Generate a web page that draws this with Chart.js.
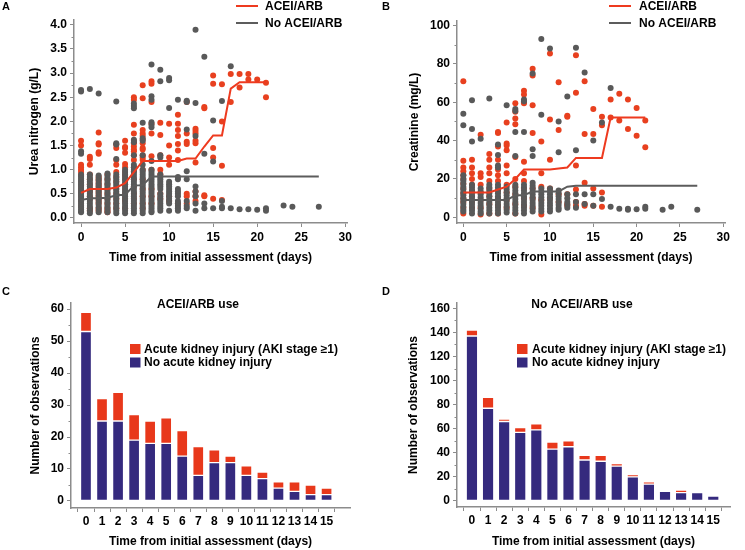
<!DOCTYPE html>
<html>
<head>
<meta charset="utf-8">
<script src="https://cdn.jsdelivr.net/npm/chart.js@4.4.1/dist/chart.umd.min.js"></script>
<style>
    body { margin: 0; background: #fff; }
    #wrap { position: relative; width: 745px; height: 550px; }
    canvas { position: absolute; }
</style>
</head>
<body>
<div id="wrap">
    <canvas id="urea-chart" style="left:0;top:0;width:372px;height:275px"></canvas>
    <canvas id="creatinine-chart" style="left:372px;top:0;width:373px;height:275px"></canvas>
    <canvas id="acei-bar-chart" style="left:0;top:275px;width:372px;height:275px"></canvas>
    <canvas id="no-acei-bar-chart" style="left:372px;top:275px;width:373px;height:275px"></canvas>
</div>
<script>
// ---- Panel A: urea nitrogen (g/L), one list of observations per day (index = day)
const ureaAcei = [
    [1.6, 1.5, 1.1, 1.05, 1.0, 0.95, 0.88, 0.75, 0.68, 0.6, 0.55, 0.5, 0.45, 0.35, 0.25],
    [1.27, 1.22, 1.1, 0.9, 0.8, 0.7, 0.6, 0.55, 0.45, 0.4, 0.2, 0.15],
    [1.77, 1.55, 1.52, 1.36, 1.33, 0.85, 0.8, 0.75, 0.7, 0.65, 0.6, 0.55, 0.5, 0.45, 0.4, 0.35, 0.3, 0.2, 0.15],
    [0.9, 0.8, 0.7, 0.6, 0.5, 0.4, 0.3, 0.2, 0.15, 0.12],
    [1.52, 1.45, 1.2, 1.1, 0.95, 0.85, 0.75, 0.6, 0.5, 0.4, 0.3, 0.2],
    [1.6, 1.47, 1.45, 1.35, 1.12, 1.05, 0.95, 0.88, 0.8, 0.7, 0.6, 0.5, 0.4, 0.35, 0.2],
    [2.5, 2.45, 1.93, 1.75, 1.6, 1.55, 1.48, 1.42, 1.38, 1.3, 1.2, 1.05, 0.97, 0.8, 0.65, 0.5, 0.4, 0.3],
    [2.75, 2.48, 1.82, 1.75, 1.7, 1.62, 1.55, 1.45, 1.42, 1.3, 1.25, 1.2, 1.0, 0.8, 0.6, 0.45, 0.3, 0.2],
    [2.83, 2.78, 2.4, 1.95, 1.75, 1.28, 1.0, 0.6, 0.45, 0.3],
    [1.97, 1.72, 1.3, 1.0, 0.9, 0.5, 0.4],
    [1.95, 1.5, 1.25, 1.1, 0.45, 0.35],
    [2.14, 1.95, 1.82, 1.7, 1.53, 1.4, 1.2, 0.3],
    [2.4, 1.75, 1.58, 1.53, 0.5, 0.45, 0.3],
    [1.85, 1.8, 1.75, 1.6, 1.55, 1.15, 0.55, 0.45, 0.35],
    [2.3, 2.27, 0.47, 0.45],
    [2.95, 2.78, 1.45, 1.25, 0.4],
    [2.77, 2.0, 1.08, 0.37],
    [2.98, 2.4],
    [2.98, 2.7],
    [2.98, 2.87],
    [2.87],
    [2.8, 2.5]
];
const ureaNoAcei = [
    [2.65, 2.62, 1.38, 1.33, 0.9, 0.86, 0.82, 0.78, 0.74, 0.7, 0.66, 0.62, 0.58, 0.54, 0.5, 0.46, 0.42, 0.38, 0.34, 0.3, 0.26, 0.22, 0.18, 0.14, 0.12],
    [2.67, 0.9, 0.85, 0.8, 0.75, 0.7, 0.65, 0.6, 0.55, 0.5, 0.45, 0.4, 0.35, 0.3, 0.25, 0.2, 0.15, 0.1],
    [2.58, 0.88, 0.83, 0.78, 0.72, 0.67, 0.62, 0.57, 0.52, 0.47, 0.42, 0.37, 0.32, 0.27, 0.22, 0.17, 0.12],
    [0.92, 0.87, 0.82, 0.77, 0.72, 0.67, 0.62, 0.57, 0.52, 0.47, 0.42, 0.37, 0.32, 0.27, 0.22, 0.17, 0.12],
    [2.41, 1.55, 1.52, 1.22, 0.9, 0.85, 0.8, 0.75, 0.7, 0.65, 0.6, 0.55, 0.5, 0.45, 0.4, 0.35, 0.3, 0.25, 0.2, 0.15, 0.1],
    [1.0, 0.95, 0.9, 0.85, 0.8, 0.75, 0.7, 0.65, 0.6, 0.55, 0.5, 0.45, 0.4, 0.35, 0.3, 0.25, 0.2, 0.15, 0.1],
    [2.37, 2.32, 2.27, 1.62, 1.57, 1.3, 1.1, 1.05, 1.0, 0.95, 0.9, 0.85, 0.8, 0.75, 0.7, 0.65, 0.6, 0.55, 0.5, 0.45, 0.4, 0.35, 0.3, 0.25, 0.2, 0.15, 0.1],
    [1.97, 1.65, 1.6, 1.3, 1.1, 1.0, 0.95, 0.9, 0.85, 0.8, 0.75, 0.7, 0.65, 0.6, 0.55, 0.5, 0.45, 0.4, 0.35, 0.3, 0.25, 0.2, 0.15, 0.1],
    [3.18, 2.52, 2.45, 1.98, 1.93, 1.88, 1.18, 1.0, 0.95, 0.9, 0.85, 0.8, 0.75, 0.7, 0.65, 0.6, 0.55, 0.5, 0.45, 0.4, 0.35, 0.3, 0.25, 0.2, 0.15, 0.12],
    [3.07, 2.83, 1.3, 1.25, 0.9, 0.85, 0.8, 0.75, 0.7, 0.65, 0.6, 0.5, 0.45, 0.4, 0.35, 0.3, 0.25, 0.2, 0.15],
    [2.9, 2.85, 2.28, 0.75, 0.7, 0.65, 0.6, 0.55, 0.5, 0.45, 0.4, 0.35, 0.3, 0.15],
    [2.45, 0.85, 0.8, 0.6, 0.55, 0.5, 0.45, 0.35, 0.3, 0.25, 0.2, 0.15],
    [2.43, 2.4, 1.83, 0.97, 0.8, 0.35, 0.25, 0.2],
    [3.9, 2.38, 1.7, 0.65, 0.55, 0.45, 0.3, 0.15],
    [3.34, 1.33, 0.3, 0.2],
    [2.02, 1.17, 0.2],
    [2.42, 0.35, 0.23, 0.2],
    [3.14, 0.2],
    [0.18],
    [0.18],
    [0.17],
    [0.2, 0.15],
    [],
    [0.26],
    [0.23],
    [],
    [],
    [0.23]
];
const ureaAceiMedianDays = [0, 1, 2, 3, 4, 5, 6, 7, 8, 9, 10, 11, 12, 13, 14, 15, 16, 17, 18, 19, 20, 21];
const ureaAceiMedian = [0.52, 0.6, 0.6, 0.6, 0.63, 0.72, 0.95, 1.18, 1.18, 1.18, 1.18, 1.18, 1.23, 1.23, 1.48, 1.71, 1.71, 2.68, 2.81, 2.81, 2.81, 2.81];
const ureaNoAceiMedianDays = [0, 1, 2, 3, 4, 5, 6, 7, 8, 27];
const ureaNoAceiMedian = [0.37, 0.41, 0.41, 0.42, 0.47, 0.48, 0.67, 0.68, 0.86, 0.86];
const ureaTicks = [0, 0.5, 1, 1.5, 2, 2.5, 3, 3.5, 4];
const ureaMinorTicks = [0.25, 0.75, 1.25, 1.75, 2.25, 2.75, 3.25, 3.75];

// ---- Panel B: creatinine (mg/L)
const creatAcei = [
    [71, 29.5, 26, 24, 22, 20, 17.5, 15, 12.5, 10, 8, 5, 2],
    [30, 26, 23, 20, 17, 14, 11, 8, 5],
    [43, 23, 21, 17, 13, 9, 5, 1.5],
    [33, 30, 26, 23, 19, 15, 11, 7, 2],
    [44.5, 44, 37, 30, 25, 22, 19, 14, 10, 6, 2],
    [49.5, 38.5, 37.5, 35, 27, 23, 17, 13, 9, 5],
    [59.5, 55, 51.5, 48.5, 31.5, 20, 16, 12, 7, 2],
    [66, 64, 60, 59.5, 29, 23, 19, 15, 10, 6],
    [77.5, 74, 58.5, 44, 15, 10, 5],
    [39.5, 23, 16, 9, 1.5],
    [85.5, 51, 30, 15, 10],
    [70.5, 45.5, 12, 8],
    [53, 52.5, 12, 7, 6],
    [84.5, 65, 27, 14.5, 8, 6],
    [71, 43.5, 18, 7, 6],
    [56.5, 43.5, 15, 6],
    [52.5, 48, 13, 5.5],
    [61.5, 52],
    [64.5, 50.5],
    [61.5, 46],
    [57, 42.5],
    [50.5, 36.5]
];
const creatNoAcei = [
    [54, 48, 22, 20, 19, 17.5, 16, 14.5, 13, 11.5, 10, 8.5, 7, 5.5, 4, 3],
    [61, 46, 39.5, 17, 15.5, 14, 12.5, 11, 9.5, 8, 6.5, 5, 3.5, 2],
    [41, 15, 13.5, 12, 10.5, 9, 7.5, 6, 4.5, 3, 2],
    [62, 17, 15.5, 14, 12.5, 11, 9.5, 8, 6.5, 5, 3.5, 2],
    [38, 32.5, 27, 26, 17, 15.5, 14, 12.5, 11, 9.5, 8, 6.5, 5, 3.5, 2],
    [58.5, 16, 14.5, 13, 11.5, 10, 8.5, 7, 5.5, 4, 2.5],
    [56.5, 55.5, 44.5, 32, 17, 15.5, 14, 12.5, 11, 9.5, 8, 6.5, 5, 3.5, 2],
    [61.5, 60.5, 44.5, 17, 15.5, 14, 12.5, 11, 9.5, 8, 6.5, 5, 3.5, 2],
    [75, 35.5, 32, 18, 16.5, 15, 13.5, 12, 10.5, 9, 7.5, 6, 4.5, 3],
    [93, 53.5, 15, 13.5, 12, 10.5, 9, 7.5, 6, 4.5, 3],
    [88, 15, 13.5, 12, 10.5, 9, 7.5, 6, 4.5, 3],
    [50, 34, 14, 12.5, 11, 9.5, 8, 6.5, 5, 4],
    [63, 12, 10, 8, 6.5, 5],
    [88.5, 35, 12, 8, 5],
    [75.5, 12, 7],
    [40, 12, 6],
    [49.5, 9.5],
    [67.5, 5.5],
    [4.5],
    [4, 4.5],
    [4.2],
    [5.5, 4.5],
    [],
    [4],
    [5.5],
    [],
    [],
    [4]
];
const creatAceiMedianDays = [0, 1, 2, 3, 4, 5, 6, 7, 8, 9, 10, 11, 12, 13, 14, 15, 16, 17, 18, 19, 20, 21];
const creatAceiMedian = [13, 13, 13, 13, 14.5, 16, 20, 25, 25, 25, 25, 25.5, 26, 31, 31, 31, 31, 52, 52, 52, 52, 52];
const creatNoAceiMedianDays = [0, 1, 2, 3, 4, 5, 6, 7, 8, 9, 10, 11, 12, 13, 27];
const creatNoAceiMedian = [9, 9, 9, 9, 9, 9, 11.5, 11.5, 13.5, 13.5, 13.5, 13.5, 16, 16.5, 16.5];
const creatTicks = [0, 20, 40, 60, 80, 100];
const creatMinorTicks = [10, 30, 50, 70, 90];

const timeTicks = [0, 5, 10, 15, 20, 25, 30];

// ---- Panels C/D: number of observations per day
const barDays = [0, 1, 2, 3, 4, 5, 6, 7, 8, 9, 10, 11, 12, 13, 14, 15];
const aceiNoAki = [53, 25, 25, 19, 18, 18, 14, 8, 12, 12, 8, 7, 4, 3, 2, 2];
const aceiAki = [6, 7, 9, 8, 7, 8, 8, 9, 4, 2, 3, 2, 2, 3, 3, 2];
const noAceiNoAki = [137, 77, 66, 57, 59, 43, 45, 34, 33, 29, 20, 14, 8, 7, 7, 4];
const noAceiAki = [5, 9, 2, 4, 5, 6, 5, 4, 5, 2, 2, 2, 0, 2, 0, 0];
const aceiBarTicks = [0, 10, 20, 30, 40, 50, 60];
const aceiBarMinorTicks = [5, 15, 25, 35, 45, 55];
const noAceiBarTicks = [0, 20, 40, 60, 80, 100, 120, 140, 160];
const noAceiBarMinorTicks = [10, 30, 50, 70, 90, 110, 130, 150];

const RED = '#e8401f';
const RED_LINE = '#ee3a1f';
const GREY = '#595959';
const GREY_LINE = '#5c5c5c';
const NAVY = '#352a7e';
const BAR_RED = '#e8381b';
const AXIS = '#8c8c8c';
const FONT = '"Liberation Sans", Arial, sans-serif';

Chart.defaults.font.family = FONT;
Chart.defaults.font.size = 12;
Chart.defaults.font.weight = 'bold';
Chart.defaults.color = '#000';
Chart.defaults.animation = false;

function toPoints(perDay) {
    return perDay.flatMap((vals, day) => vals.map(v => ({ x: day, y: v })));
}

function toLine(days, vals) {
    return days.map((d, i) => ({ x: d, y: vals[i] }));
}

// Draws panel letter, legends, in-plot titles and minor y ticks
const panelDecor = {
    id: 'panelDecor',
    afterDraw(chart, args, opts) {
        const ctx = chart.ctx;
        const yScale = chart.scales.y;
        ctx.save();

        // minor ticks on the y axis
        ctx.strokeStyle = AXIS;
        ctx.lineWidth = 1;
        (opts.minorTicks || []).forEach(v => {
            const py = Math.round(yScale.getPixelForValue(v)) + 0.5;
            ctx.beginPath();
            ctx.moveTo(chart.chartArea.left, py);
            ctx.lineTo(chart.chartArea.left - 2.5, py);
            ctx.stroke();
        });

        ctx.fillStyle = '#000';
        ctx.textBaseline = 'middle';
        ctx.font = 'bold 11px ' + FONT;
        ctx.fillText(opts.letter, opts.letterX, opts.letterY);

        ctx.font = 'bold 12px ' + FONT;
        if (opts.title) {
            ctx.textAlign = 'center';
            ctx.fillText(opts.title, opts.titleX, opts.titleY);
            ctx.textAlign = 'left';
        }

        const lg = opts.legend;
        lg.items.forEach((item, i) => {
            const y = lg.y + i * lg.rowGap;
            if (lg.kind === 'line') {
                ctx.strokeStyle = item.color;
                ctx.lineWidth = 2;
                ctx.beginPath();
                ctx.moveTo(lg.x, y);
                ctx.lineTo(lg.x + lg.sample, y);
                ctx.stroke();
            } else {
                ctx.fillStyle = item.color;
                ctx.fillRect(lg.x, y - 5, lg.sample, 10);
            }
            ctx.fillStyle = '#000';
            ctx.fillText(item.text, lg.textX, y + 0.5);
        });
        ctx.restore();
    }
};

function axisOptions(extra) {
    return Object.assign({
        type: 'linear',
        grid: { drawOnChartArea: false, tickLength: 4, color: AXIS, lineWidth: 1 },
        border: { color: AXIS, width: 1.5 },
        ticks: { autoSkip: false, maxRotation: 0, padding: 3 }
    }, extra);
}

function initScatterChart(id, cfg) {
    const canvas = document.getElementById(id);
    return new Chart(canvas.getContext('2d'), {
        type: 'scatter',
        data: {
            datasets: [{
                label: 'ACEI/ARB',
                data: toLine(cfg.aceiMedianDays, cfg.aceiMedian),
                showLine: true,
                borderColor: RED_LINE,
                borderWidth: 2,
                pointRadius: 0,
                tension: 0
            }, {
                label: 'No ACEI/ARB',
                data: toLine(cfg.noAceiMedianDays, cfg.noAceiMedian),
                showLine: true,
                borderColor: GREY_LINE,
                borderWidth: 2,
                pointRadius: 0,
                tension: 0
            }, {
                label: 'No ACEI/ARB observations',
                data: toPoints(cfg.noAcei),
                backgroundColor: GREY,
                borderWidth: 0,
                pointRadius: 3
            }, {
                label: 'ACEI/ARB observations',
                data: toPoints(cfg.acei),
                backgroundColor: RED,
                borderWidth: 0,
                pointRadius: 3
            }]
        },
        options: {
            responsive: false,
            layout: { padding: cfg.padding },
            plugins: {
                legend: { display: false },
                tooltip: { enabled: false },
                panelDecor: cfg.decor
            },
            scales: {
                x: axisOptions({
                    min: cfg.xMin,
                    max: cfg.xMax,
                    afterBuildTicks: s => { s.ticks = timeTicks.map(v => ({ value: v })); },
                    afterFit: s => { s.height = cfg.xHeight; },
                    title: { display: true, text: 'Time from initial assessment (days)', padding: { top: 0, bottom: cfg.xTitlePad } }
                }),
                y: axisOptions({
                    min: cfg.yMin,
                    max: cfg.yMax,
                    afterBuildTicks: s => { s.ticks = cfg.yTicks.map(v => ({ value: v })); },
                    afterFit: s => { s.width = cfg.yWidth; },
                    ticks: { autoSkip: false, padding: 3, callback: cfg.yFormat },
                    title: { display: true, text: cfg.yTitle, padding: { top: cfg.yTitlePad, bottom: 0 } }
                })
            }
        },
        plugins: [panelDecor]
    });
}

function initBarChart(id, cfg) {
    const canvas = document.getElementById(id);
    return new Chart(canvas.getContext('2d'), {
        type: 'bar',
        data: {
            datasets: [{
                label: 'No acute kidney injury',
                data: toLine(barDays, cfg.noAki),
                backgroundColor: NAVY,
                borderColor: 'rgba(255,255,255,0.55)',
                borderWidth: 1,
                borderSkipped: false,
                barThickness: cfg.barWidth
            }, {
                label: 'Acute kidney injury (AKI stage \u22651)',
                data: toLine(barDays, cfg.aki),
                backgroundColor: BAR_RED,
                borderColor: 'rgba(255,255,255,0.55)',
                borderWidth: 1,
                borderSkipped: false,
                barThickness: cfg.barWidth
            }]
        },
        options: {
            responsive: false,
            layout: { padding: cfg.padding },
            plugins: {
                legend: { display: false },
                tooltip: { enabled: false },
                panelDecor: cfg.decor
            },
            scales: {
                x: axisOptions({
                    stacked: true,
                    min: cfg.xMin,
                    max: cfg.xMax,
                    offset: false,
                    afterBuildTicks: s => { s.ticks = barDays.map(v => ({ value: v })); },
                    afterFit: s => { s.height = cfg.xHeight; },
                    ticks: { autoSkip: false, maxRotation: 0, padding: 2 },
                    title: { display: true, text: 'Time from initial assessment (days)', padding: { top: 0, bottom: cfg.xTitlePad } }
                }),
                y: axisOptions({
                    stacked: true,
                    min: cfg.yMin,
                    max: cfg.yMax,
                    afterBuildTicks: s => { s.ticks = cfg.yTicks.map(v => ({ value: v })); },
                    afterFit: s => { s.width = cfg.yWidth; },
                    title: { display: true, text: 'Number of observations', padding: { top: cfg.yTitlePad, bottom: 0 } }
                })
            }
        },
        plugins: [panelDecor]
    });
}

const lineLegend = (x, textX) => ({
    kind: 'line', x: x, textX: textX, y: 6, rowGap: 17, sample: 22,
    items: [{ text: 'ACEI/ARB', color: RED_LINE }, { text: 'No ACEI/ARB', color: GREY_LINE }]
});
const boxLegend = (x, textX) => ({
    kind: 'box', x: x, textX: textX, y: 74, rowGap: 13.5, sample: 10.5,
    items: [{ text: 'Acute kidney injury (AKI stage \u22651)', color: BAR_RED }, { text: 'No acute kidney injury', color: NAVY }]
});

initScatterChart('urea-chart', {
    acei: ureaAcei, noAcei: ureaNoAcei,
    aceiMedianDays: ureaAceiMedianDays, aceiMedian: ureaAceiMedian,
    noAceiMedianDays: ureaNoAceiMedianDays, noAceiMedian: ureaNoAceiMedian,
    xMin: -0.8, xMax: 30.2, yMin: -0.104, yMax: 4.1,
    yTicks: ureaTicks, yFormat: v => Number(v).toFixed(1),
    yTitle: 'Urea nitrogen (g/L)',
    padding: { top: 20, right: 25, left: 0, bottom: 0 },
    xHeight: 52, yWidth: 74, xTitlePad: 10, yTitlePad: 27,
    decor: { letter: 'A', letterX: 2, letterY: 7, minorTicks: ureaMinorTicks, legend: lineLegend(236, 265) }
});

initScatterChart('creatinine-chart', {
    acei: creatAcei, noAcei: creatNoAcei,
    aceiMedianDays: creatAceiMedianDays, aceiMedian: creatAceiMedian,
    noAceiMedianDays: creatNoAceiMedianDays, noAceiMedian: creatNoAceiMedian,
    xMin: -0.73, xMax: 30.2, yMin: -2.97, yMax: 102.4,
    yTicks: creatTicks, yFormat: v => String(v),
    yTitle: 'Creatinine (mg/L)',
    padding: { top: 21, right: 20, left: 0, bottom: 0 },
    xHeight: 52, yWidth: 85, xTitlePad: 10, yTitlePad: 35,
    decor: { letter: 'B', letterX: 10, letterY: 7, minorTicks: creatMinorTicks, legend: lineLegend(237, 267) }
});

initBarChart('acei-bar-chart', {
    noAki: aceiNoAki, aki: aceiAki, barWidth: 11,
    xMin: -0.935, xMax: 16.46, yMin: -2.2, yMax: 61.9,
    yTicks: aceiBarTicks,
    padding: { top: 28, right: 22, left: 0, bottom: 0 },
    xHeight: 42, yWidth: 71, xTitlePad: 1, yTitlePad: 28,
    decor: { letter: 'C', letterX: 2, letterY: 17, minorTicks: aceiBarMinorTicks, title: 'ACEI/ARB use', titleX: 198, titleY: 30, legend: boxLegend(130, 144) }
});

initBarChart('no-acei-bar-chart', {
    noAki: noAceiNoAki, aki: noAceiAki, barWidth: 11.5,
    xMin: -0.93, xMax: 16.04, yMin: -5, yMax: 164.4,
    yTicks: noAceiBarTicks,
    padding: { top: 28, right: 15, left: 0, bottom: 0 },
    xHeight: 43, yWidth: 85, xTitlePad: 1, yTitlePad: 34,
    decor: { letter: 'D', letterX: 10, letterY: 17, minorTicks: noAceiBarMinorTicks, title: 'No ACEI/ARB use', titleX: 210, titleY: 30, legend: boxLegend(145, 160) }
});
</script>
</body>
</html>
